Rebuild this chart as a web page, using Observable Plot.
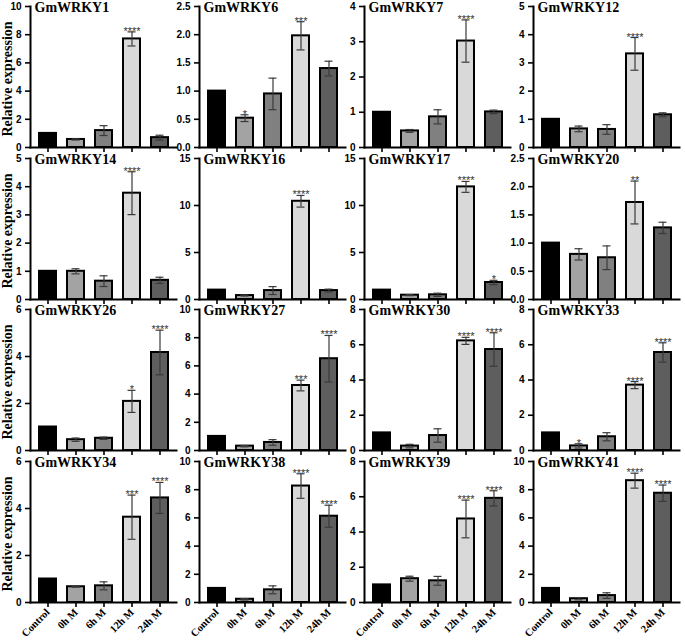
<!DOCTYPE html>
<html><head><meta charset="utf-8">
<script src="https://cdn.jsdelivr.net/npm/d3@7"></script>
<script src="https://cdn.jsdelivr.net/npm/@observablehq/plot@0.6"></script>
<style>
body{margin:0;background:#fff;}
#chart{position:relative;width:685px;height:640px;overflow:hidden;background:#fff;}
#chart svg{position:absolute;}
</style></head><body><div id="chart"></div>
<script>
const genes = ["GmWRKY1","GmWRKY6","GmWRKY7","GmWRKY12","GmWRKY14","GmWRKY16","GmWRKY17","GmWRKY20",
  "GmWRKY26","GmWRKY27","GmWRKY30","GmWRKY33","GmWRKY34","GmWRKY38","GmWRKY39","GmWRKY41"];
const categories = ["Control","0h M","6h M","12h M","24h M"];
const means = [
  [1, 0.57, 1.2, 7.7, 0.7],
  [1, 0.52, 0.95, 1.98, 1.40],
  [1, 0.47, 0.87, 3.02, 1.01],
  [1, 0.66, 0.64, 3.32, 1.16],
  [1, 1.0, 0.65, 3.77, 0.68],
  [1, 0.42, 0.95, 10.45, 0.95],
  [1, 0.46, 0.5, 11.98, 1.81],
  [1, 0.8, 0.74, 1.72, 1.27],
  [1, 0.46, 0.52, 2.09, 4.17],
  [1, 0.31, 0.57, 4.61, 6.51],
  [1, 0.25, 0.85, 6.22, 5.73],
  [1, 0.26, 0.78, 3.71, 5.56],
  [1, 0.67, 0.71, 3.63, 4.45],
  [1, 0.23, 0.9, 8.26, 6.12],
  [1, 1.35, 1.23, 4.74, 5.91],
  [1, 0.27, 0.49, 8.64, 7.75]
];
const errors = [
  [0, 0.04, 0.35, 0.5, 0.17],
  [0, 0.06, 0.28, 0.25, 0.13],
  [0, 0.04, 0.2, 0.6, 0.05],
  [0, 0.1, 0.17, 0.58, 0.07],
  [0, 0.09, 0.19, 0.76, 0.11],
  [0, 0.05, 0.42, 0.62, 0.15],
  [0, 0.05, 0.17, 0.58, 0.23],
  [0, 0.1, 0.21, 0.38, 0.1],
  [0, 0.07, 0.05, 0.47, 0.95],
  [0, 0.05, 0.2, 0.38, 1.65],
  [0, 0.1, 0.38, 0.2, 0.95],
  [0, 0.12, 0.23, 0.2, 0.55],
  [0, 0.02, 0.17, 0.94, 0.66],
  [0, 0.05, 0.28, 0.87, 0.78],
  [0, 0.14, 0.25, 1.07, 0.43],
  [0, 0.08, 0.2, 0.53, 0.58]
];
const stars = [
  ["","","","****",""],
  ["","*","","***",""],
  ["","","","****",""],
  ["","","","****",""],
  ["","","","****",""],
  ["","","","****",""],
  ["","","","****","*"],
  ["","","","**",""],
  ["","","","*","****"],
  ["","","","***","****"],
  ["","","","****","****"],
  ["","*","","****","****"],
  ["","","","***","****"],
  ["","","","****","****"],
  ["","","","****","****"],
  ["","","","****","****"]
];
const yTicks = [
  [0,2,4,6,8,10],
  [0,0.5,1,1.5,2,2.5],
  [0,1,2,3,4],
  [0,1,2,3,4,5],
  [0,1,2,3,4,5],
  [0,5,10,15],
  [0,5,10,15],
  [0,0.5,1,1.5,2,2.5],
  [0,2,4,6],
  [0,2,4,6,8,10],
  [0,2,4,6,8],
  [0,2,4,6,8],
  [0,2,4,6],
  [0,2,4,6,8,10],
  [0,2,4,6,8],
  [0,2,4,6,8,10]
];
const yLabel = "Relative expression";

const fills = ["#000000","#a3a3a3","#808080","#d9d9d9","#5e5e5e"];
const colX = [30, 199, 364, 533];
const rowTop = [6, 158, 309, 461];
const plotH = 141, plotW = 146, mL = 30, mT = 6, mR = 6;
const serif = "'Liberation Serif','Times New Roman',serif";
const sans = "'Liberation Sans',Arial,sans-serif";
const chart = document.getElementById("chart");

genes.forEach((g, i) => {
  const r = Math.floor(i / 4), c = i % 4;
  const bottomRow = r === 3;
  const mB = bottomRow ? 40 : 10;
  const rows = categories.map((cat, j) => ({cat, v: means[i][j], e: errors[i][j], s: stars[i][j]}));
  const errRows = rows.filter(d => d.e > 0);
  const starRows = rows.filter(d => d.s);
  const ymax = yTicks[i][yTicks[i].length - 1];
  const fmt = yTicks[i].some(t => t % 1 !== 0) ? d3.format(".1f") : d3.format("d");
  const marks = [
    Plot.barY(rows, {x: "cat", y: "v", fill: "cat", stroke: "black", strokeWidth: 2}),
    Plot.ruleX(errRows, {x: "cat", y1: d => d.v - d.e, y2: d => d.v + d.e, stroke: "#3a3a3a", strokeWidth: 1.2}),
    Plot.tickY(errRows, {x: "cat", y: d => d.v + d.e, stroke: "#3a3a3a", strokeWidth: 1.2, insetLeft: 4.5, insetRight: 4.5}),
    Plot.tickY(errRows, {x: "cat", y: d => d.v - d.e, stroke: "#3a3a3a", strokeWidth: 1.2, insetLeft: 4.5, insetRight: 4.5}),
    Plot.text(starRows, {x: "cat", y: d => d.v + d.e, text: "s", lineAnchor: "bottom", dy: 3, fontSize: 11, fontWeight: "normal", fontFamily: sans, fill: "#333333"}),
    Plot.frame({anchor: "left", strokeWidth: 2, strokeLinecap: "square"}),
    Plot.frame({anchor: "bottom", strokeWidth: 2, strokeLinecap: "square"}),
    Plot.axisY({ticks: yTicks[i], tickFormat: fmt, tickSize: 5, strokeWidth: 1.6, label: null, fontSize: 10, fontWeight: "bold", fontFamily: sans}),
    bottomRow
      ? Plot.axisX({tickSize: 5, strokeWidth: 1.6, tickRotate: -45, tickPadding: 3, textAnchor: "end", lineAnchor: "middle", label: null, fontSize: 10.5, fontWeight: "bold", fontFamily: serif})
      : Plot.axisX({tickSize: 5, strokeWidth: 1.6, label: null, tickFormat: () => ""}),
    Plot.text([g], {frameAnchor: "top-left", dx: 4, dy: 5, lineAnchor: "bottom", textAnchor: "start", text: d => d, fontFamily: serif, fontWeight: "bold", fontSize: 14, fill: "black"})
  ];
  if (c === 0) {
    marks.push(Plot.text([yLabel], {frameAnchor: "left", rotate: -90, dx: -19, dy: 2, lineAnchor: "bottom", textAnchor: "middle", text: d => d, fontFamily: serif, fontWeight: "bold", fontSize: 14, fill: "black"}));
  }
  const svg = Plot.plot({
    width: mL + plotW + mR,
    height: mT + plotH + mB,
    marginLeft: mL, marginRight: mR, marginTop: mT, marginBottom: mB,
    style: {background: "transparent", overflow: "visible", fontFamily: sans, color: "black"},
    x: {domain: categories, paddingInner: 0.4, paddingOuter: 0.2, insetLeft: 3, insetRight: 3, label: null},
    y: {domain: [0, ymax], label: null},
    color: {type: "ordinal", domain: categories, range: fills},
    marks
  });
  svg.style.left = (colX[c] - mL) + "px";
  svg.style.top = (rowTop[r] - mT) + "px";
  chart.appendChild(svg);
});
</script>
</body></html>
